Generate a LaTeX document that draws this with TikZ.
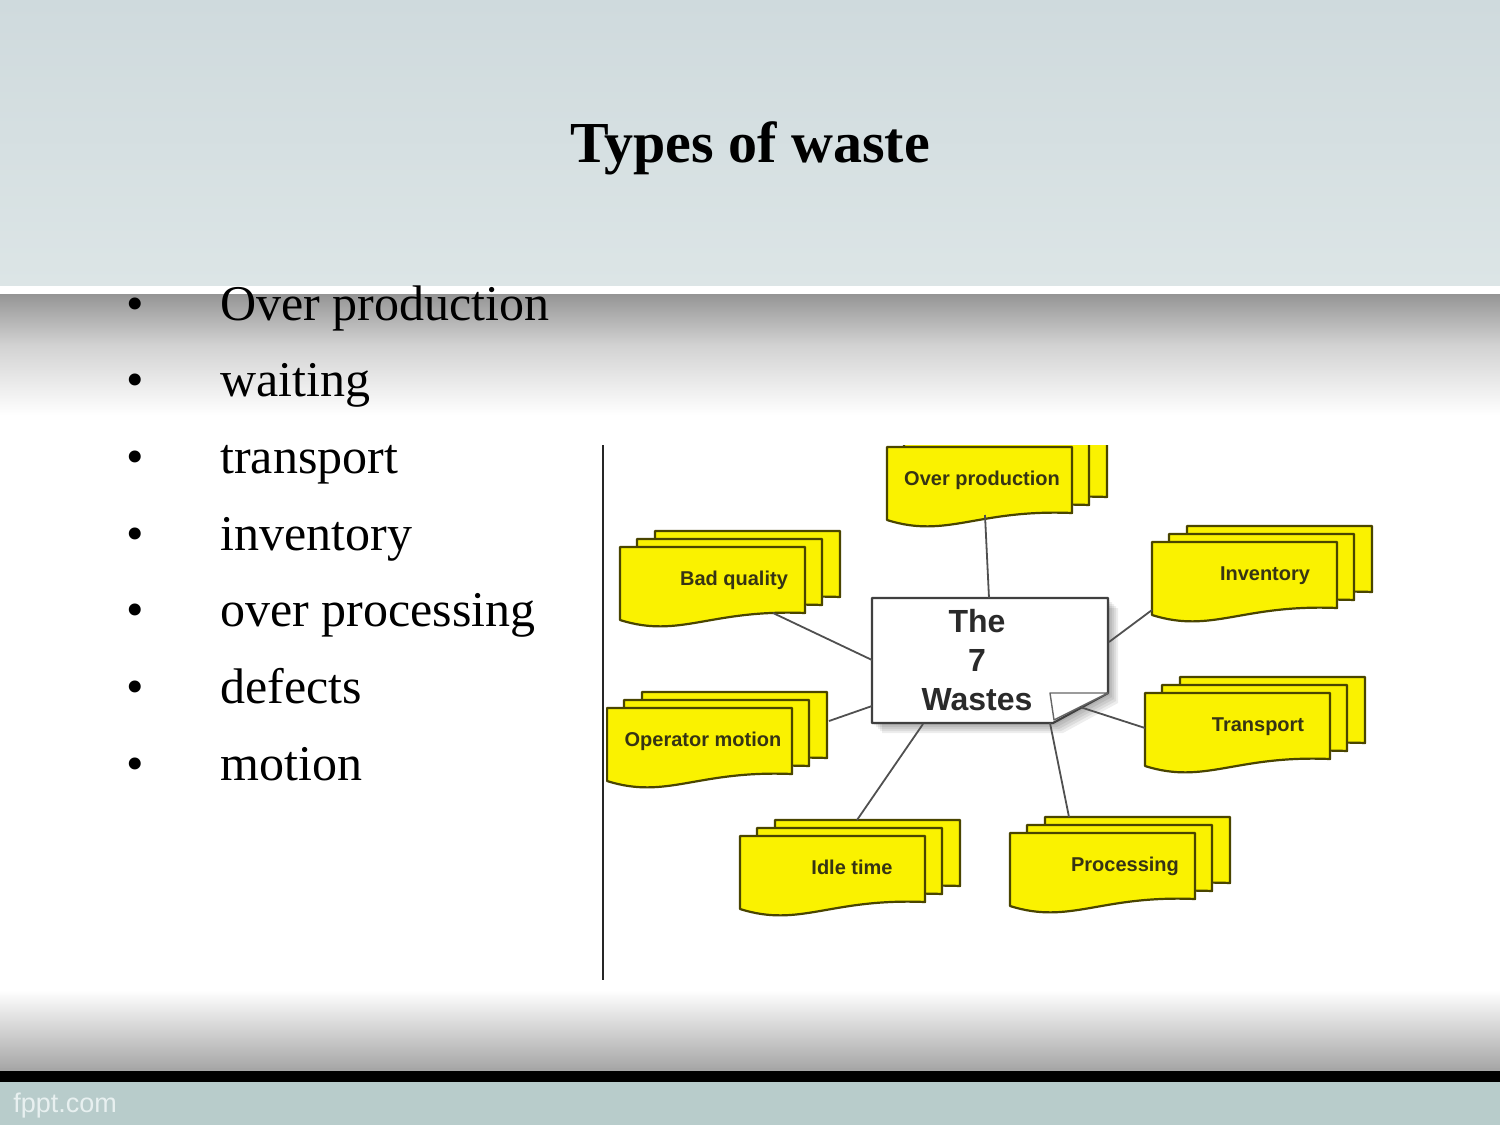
\documentclass[tikz,border=0pt]{standalone}
\usepackage{fontspec}
\setmainfont{Liberation Serif}
\setsansfont{Liberation Sans}
\definecolor{skyA}{HTML}{CFDADD}
\definecolor{skyB}{HTML}{DCE5E6}
\definecolor{bandgray}{HTML}{959595}
\definecolor{bandmid}{HTML}{D2D2D2}
\definecolor{footgray}{HTML}{A8A8A8}
\definecolor{footteal}{HTML}{B8CCCB}
\definecolor{fpptwhite}{HTML}{E8F0F0}
\definecolor{docyellow}{HTML}{FAF200}
\definecolor{docedge}{HTML}{4A4500}
\definecolor{doctext}{HTML}{363414}
\definecolor{linkgray}{HTML}{505050}
\definecolor{hubedge}{HTML}{404040}
\definecolor{hubtext}{HTML}{2A2A2A}
\tikzset{
  docshape/.style={fill=docyellow, draw=docedge, line width=1.1pt, line join=round},
  doclabel/.style={font=\sffamily\bfseries\fontsize{10}{12}\selectfont, text=doctext, inner sep=0pt, anchor=base},
  link/.style={draw=linkgray, line width=0.9pt},
  listitem/.style={anchor=base west, font=\fontsize{25}{30}\selectfont, inner sep=0pt},
  listbullet/.style={anchor=base, font=\fontsize{25}{30}\selectfont, inner sep=0pt},
  hubbox/.style={fill=white, draw=hubedge, line width=1.1pt, line join=round},
  hubshade/.style={fill=black, fill opacity=0.07},
  hublabel/.style={font=\sffamily\bfseries\fontsize{16}{19.5}\selectfont, text=hubtext, align=center, inner sep=0pt},
}
% name, left, top, text, text-x
\newcommand\wastedoc[5]{%
  \path[docshape] ({#2+35},{#3-16}) -- ({#2+220},{#3-16}) -- ({#2+220},{#3+50})
     .. controls ({#2+125},{#3+46}) and ({#2+95},{#3+76}) .. ({#2+35},{#3+57}) -- cycle;
  \path[docshape] ({#2+17},{#3-8}) -- ({#2+202},{#3-8}) -- ({#2+202},{#3+58})
     .. controls ({#2+107},{#3+54}) and ({#2+77},{#3+84}) .. ({#2+17},{#3+65}) -- cycle;
  \path[docshape] (#2,#3) -- ({#2+185},#3) -- ({#2+185},{#3+66})
     .. controls ({#2+90},{#3+62}) and ({#2+60},{#3+92}) .. (#2,{#3+73}) -- cycle;
  \node[doclabel] (#1) at (#5,{#3+38}) {#4};
}
\begin{document}
\begin{tikzpicture}[x=0.5pt,y=-0.5pt]
\useasboundingbox (0,0) rectangle (1500,1125);
% backgrounds
\fill[white] (0,0) rectangle (1500,1125);
\shade[top color=skyA, bottom color=skyB] (0,0) rectangle (1500,286);
\fill[white] (0,286) rectangle (1500,294);
\shade[top color=bandgray, bottom color=bandmid] (0,294) rectangle (1500,345);
\shade[top color=bandmid, bottom color=white] (0,345) rectangle (1500,415);
\shade[top color=white, bottom color=footgray] (0,990) rectangle (1500,1068);
\fill[gray!70] (0,1068) rectangle (1500,1071);
\fill[black] (0,1071) rectangle (1500,1082);
\fill[footteal] (0,1082) rectangle (1500,1125);
\node[anchor=base west, inner sep=0pt, text=fpptwhite, font=\sffamily\fontsize{13.5}{16}\selectfont] (fppt) at (13,1112) {fppt.com};

% title
\node[anchor=base, inner sep=0pt, font=\bfseries\fontsize{29}{34}\selectfont] (title) at (750,162) {Types of waste};

% list
\foreach \t [count=\i from 0] in {Over production,waiting,transport,inventory,over processing,defects,motion}{
  \node[listbullet] (b\i) at (135,{320+76.7*\i}) {•};
  \node[listitem] (item\i) at (220,{320+76.7*\i}) {\t};
}

% separator line
\draw[line width=1pt, draw=black!85] (603,445) coordinate (sepTop) -- (603,980) coordinate (sepBot);

% diagram
\begin{scope}
\clip (606,445) rectangle (1400,940);
\wastedoc{ovp}{887}{447}{Over production}{982}
\wastedoc{bq}{620}{547}{Bad quality}{734}
\wastedoc{inv}{1152}{542}{Inventory}{1265}
\wastedoc{tr}{1145}{693}{Transport}{1258}
\wastedoc{om}{607}{708}{Operator motion}{703}
\wastedoc{it}{740}{836}{Idle time}{852}
\wastedoc{pr}{1010}{833}{Processing}{1125}

% hub soft shadow
\foreach \d in {2,4,6,8,10}{
  \path[hubshade] ({872+\d},{598+\d}) -- ({1108+\d},{598+\d}) -- ({1108+\d},{693+\d}) -- ({1053+\d},{723+\d}) -- ({872+\d},{723+\d}) -- cycle;
}
\path[hubbox] (872,598) -- (1108,598) -- (1108,693) -- (1053,723) -- (872,723) -- cycle;
\path[fill=white, draw=hubedge!80, line width=0.7pt, line join=round]
  (1050,693) -- (1108,693) -- (1054,720) -- cycle;
\node[hublabel] (hub) at (977,660) {The\\7\\Wastes};

% connector end points
\coordinate (ovpE) at (985,515);  \coordinate (hubN)  at (989,598);
\coordinate (bqE)  at (773,613);  \coordinate (hubW1) at (872,660);
\coordinate (invE) at (1152,610); \coordinate (hubE1) at (1109,642);
\coordinate (omE)  at (829,721);  \coordinate (hubW2) at (872,706);
\coordinate (trE)  at (1145,728); \coordinate (hubF)  at (1080,707);
\coordinate (itE)  at (857,820);  \coordinate (hubS1) at (923,724);
\coordinate (prE)  at (1069,817); \coordinate (hubS2) at (1050,723);
\draw[link] (ovpE) -- (hubN);
\draw[link] (bqE) -- (hubW1);
\draw[link] (invE) -- (hubE1);
\draw[link] (omE) -- (hubW2);
\draw[link] (trE) -- (hubF);
\draw[link] (itE) -- (hubS1);
\draw[link] (prE) -- (hubS2);
\end{scope}
\end{tikzpicture}
\end{document}
